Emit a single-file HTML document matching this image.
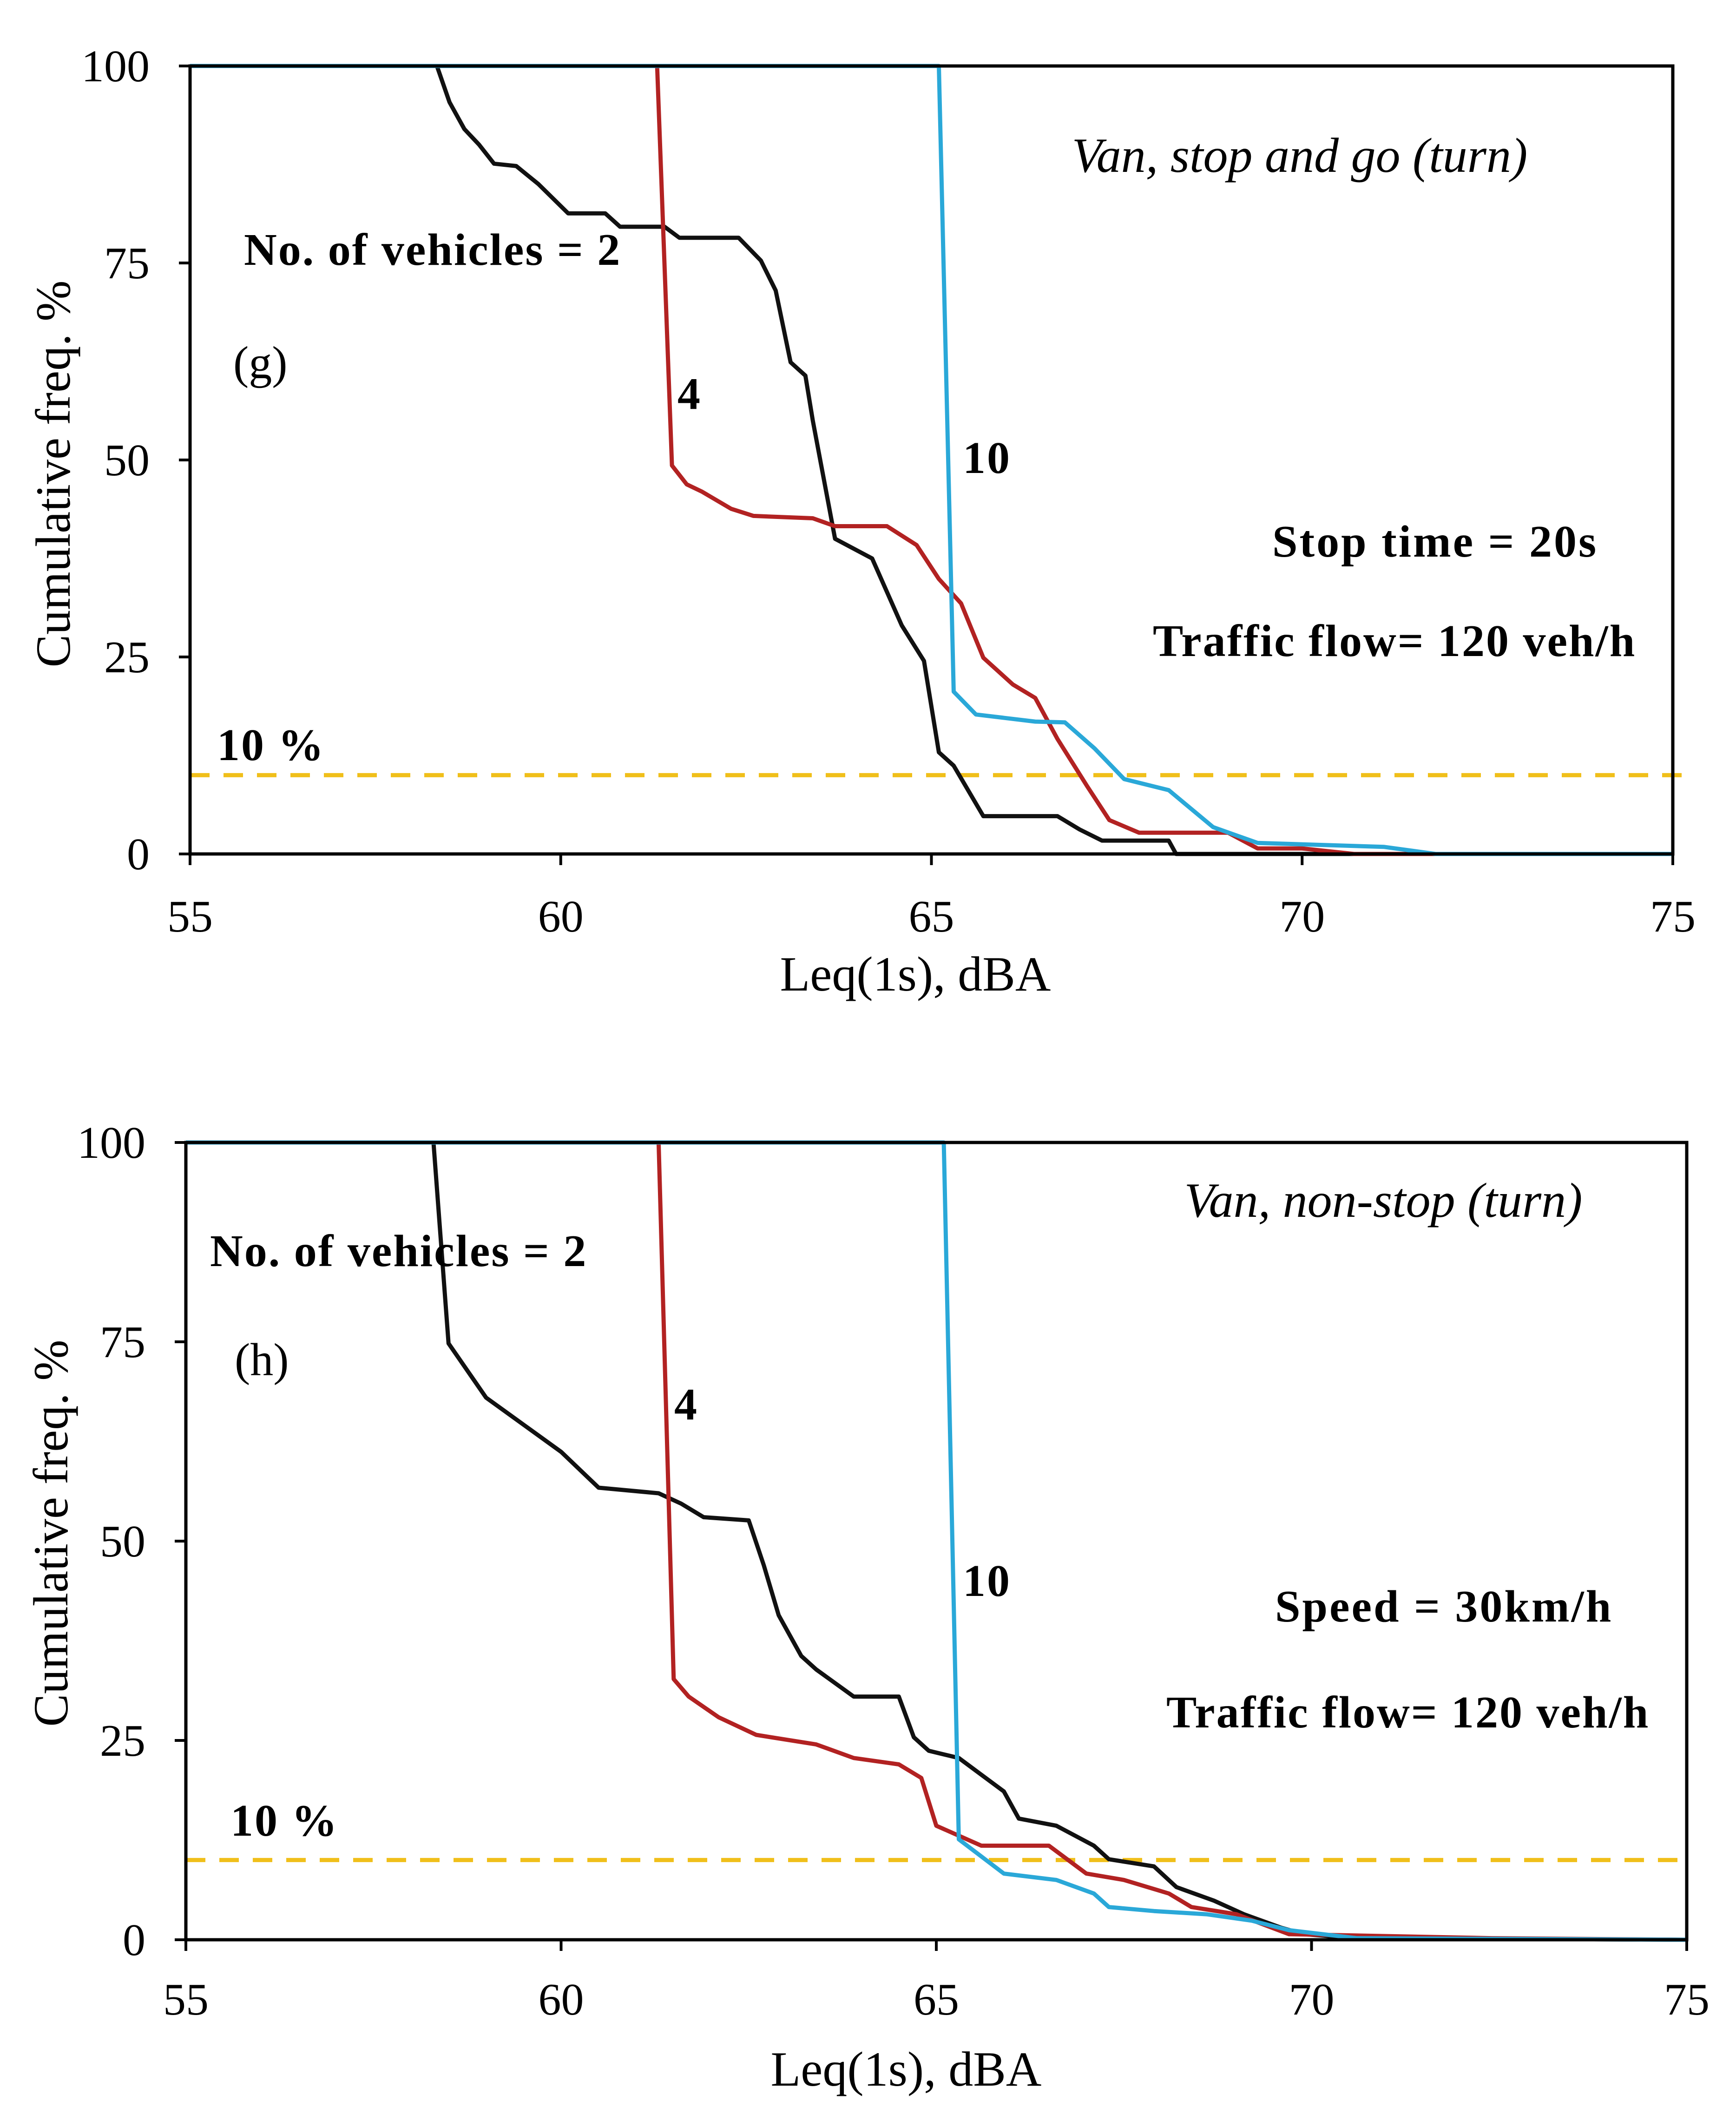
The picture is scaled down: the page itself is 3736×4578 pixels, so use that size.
<!DOCTYPE html>
<html><head><meta charset="utf-8">
<style>
html,body{margin:0;padding:0;background:#fff;}
svg{display:block;}
text{font-family:"Liberation Serif","DejaVu Serif",serif;fill:#000;}
</style></head>
<body>
<svg id="fig" width="3736" height="4578" viewBox="0 0 3736 4578" xmlns="http://www.w3.org/2000/svg">
  <rect x="0" y="0" width="3736" height="4578" fill="#fff"/>
  <g id="chartG"></g>
  <g id="chartH"></g>
</svg>
<script>
// ---- data: panel (g) ----
const xTicks = [55, 60, 65, 70, 75];
const yTicks = [0, 25, 50, 75, 100];
const gBlackX = [55,58.33,58.5,58.7,58.9,59.1,59.4,59.7,60.1,60.6,60.8,61.4,61.6,62.4,62.7,62.9,63.1,63.3,63.4,63.7,64.2,64.6,64.9,65.1,65.3,65.7,66.7,67,67.3,68.2,68.3,75];
const gBlackY = [100,100,95.4,92,90,87.6,87.3,85,81.3,81.3,79.6,79.6,78.2,78.2,75.3,71.5,62.4,60.7,55,40,37.5,29,24.5,12.9,11.2,4.8,4.8,3.1,1.7,1.7,0,0];
const gRedX = [55,61.3,61.5,61.7,61.9,62.3,62.6,63.4,63.7,64.4,64.8,65.1,65.4,65.7,66.1,66.4,66.7,67.1,67.4,67.8,69,69.4,70,70.7,75];
const gRedY = [100,100,49.3,46.9,46,43.8,42.9,42.6,41.6,41.6,39.2,34.9,31.8,24.9,21.5,19.8,14.6,8.6,4.3,2.7,2.7,0.7,0.7,0,0];
const gBlueX = [55,65.1,65.3,65.6,66.4,66.8,67.2,67.6,68.2,68.8,69.4,71.1,71.8,75];
const gBlueY = [100,100,20.6,17.7,16.8,16.7,13.4,9.5,8.1,3.4,1.4,0.9,0,0];
// ---- data: panel (h) ----
const hBlackX = [55,58.3,58.5,59,59.5,60,60.5,61.3,61.6,61.9,62.5,62.7,62.9,63.2,63.4,63.9,64.5,64.7,64.9,65.3,65.9,66.1,66.6,67.1,67.3,67.9,68.2,68.7,69.1,69.6,69.9,70.6,75];
const hBlackY = [100,100,74.8,68,64.6,61.2,56.7,56,54.7,53,52.6,47,40.7,35.6,33.9,30.5,30.5,25.4,23.7,22.8,18.6,15.2,14.3,11.8,10.1,9.2,6.6,4.9,3.2,1.5,0.7,0.2,0];
const hRedX = [55,61.3,61.5,61.7,62.1,62.6,63.4,63.9,64.5,64.8,65,65.6,66.5,67,67.5,68.1,68.4,69,69.7,72.4,75];
const hRedY = [100,100,32.7,30.5,27.9,25.7,24.5,22.8,22,20.3,14.3,11.8,11.8,8.3,7.5,5.8,4.1,3.2,0.7,0.2,0];
const hBlueX = [55,65.1,65.3,65.9,66.6,67.1,67.3,67.9,68.6,69.2,69.7,70.6,75];
const hBlueY = [100,100,12.6,8.3,7.5,5.8,4.1,3.6,3.2,2.4,1.2,0.2,0];
const thresholdPct = [10];

const NS = "http://www.w3.org/2000/svg";
function mk(parent, tag, attrs, txt){
  const e = document.createElementNS(NS, tag);
  for (const k in attrs) e.setAttribute(k, attrs[k]);
  if (txt !== undefined) e.textContent = txt;
  parent.appendChild(e);
  return e;
}

function drawChart(g, cfg){
  const sx = v => cfg.L + (v - 55) / 20 * (cfg.R - cfg.L);
  const sy = v => cfg.B - v / 100 * (cfg.B - cfg.T);
  const series = [
    {x: cfg.black[0], y: cfg.black[1], c: "#111111", n: "series-2-vehicles"},
    {x: cfg.red[0], y: cfg.red[1], c: "#b22222", n: "series-4-vehicles"},
    {x: cfg.blue[0], y: cfg.blue[1], c: "#2aa8d8", n: "series-10-vehicles"}
  ];
  const dl = mk(g, "line", {x1: sx(55), x2: cfg.dashEnd, y1: sy(thresholdPct[0]), y2: sy(thresholdPct[0]), stroke: "#f0bf1a", "stroke-width": 9, "stroke-dasharray": "42 30"});
  
  
  for (const s of series){
    let d = "";
    for (let i = 0; i < s.x.length; i++) d += (i ? "L" : "M") + sx(s.x[i]).toFixed(1) + " " + sy(s.y[i]).toFixed(1);
    const p = mk(g, "path", {d: d, fill: "none", stroke: s.c, "stroke-width": 9, "stroke-linejoin": "round"});
    
    
  }
  const fr = mk(g, "rect", {x: cfg.L, y: cfg.T, width: cfg.R - cfg.L, height: cfg.B - cfg.T, fill: "none", stroke: "#000", "stroke-width": 7});
  
  
  for (const t of yTicks){
    const tl = mk(g, "line", {x1: cfg.L - 24, x2: cfg.L, y1: sy(t), y2: sy(t), stroke: "#000", "stroke-width": 6});
    
    
    const tx = mk(g, "text", {x: cfg.yLabX, y: sy(t) + 33, "text-anchor": "end", "font-size": 98}, String(t));
    
    
  }
  for (const t of xTicks){
    const tl = mk(g, "line", {x1: sx(t), x2: sx(t), y1: cfg.B, y2: cfg.B + 24, stroke: "#000", "stroke-width": 6});
    
    
    const tx = mk(g, "text", {x: sx(t), y: cfg.xLabY, "text-anchor": "middle", "font-size": 98}, String(t));
    
    
  }
  const xt = mk(g, "text", {x: cfg.xTitle[0], y: cfg.xTitle[1], "text-anchor": "middle", "font-size": 106}, "Leq(1s), dBA");
  
  
  const yt = mk(g, "text", {x: 0, y: 0, "text-anchor": "middle", "font-size": 106, transform: "translate(" + cfg.yTitle[0] + "," + cfg.yTitle[1] + ") rotate(-90)"}, "Cumulative freq. %");
  
  
  for (const a of cfg.ann){
    const at = mk(g, "text", {x: a.x, y: a.y, "font-size": a.fs || 90, "font-weight": a.b ? "bold" : "normal", "font-style": a.i ? "italic" : "normal", "text-anchor": a.anchor || "start", "letter-spacing": a.ls || 0}, a.t);
    
    
  }
}

drawChart(document.getElementById("chartG"), {
  L: 409, R: 3600, T: 142, B: 1838, dashEnd: 3620,
  black: [gBlackX, gBlackY], red: [gRedX, gRedY], blue: [gBlueX, gBlueY],
  yLabX: 322, xLabY: 2005, xTitle: [1970, 2132], yTitle: [150, 1020],
  ann: [
    {x: 2797, y: 370, t: "Van, stop and go (turn)", i: true, anchor: "middle", fs: 106, n: "panel-title"},
    {x: 525, y: 570, t: "No. of vehicles = 2", b: true, fs: 98, ls: 3, n: "label-2-vehicles"},
    {x: 502, y: 814, t: "(g)", fs: 100, n: "panel-label"},
    {x: 1458, y: 880, t: "4", b: true, fs: 98, n: "label-4-vehicles"},
    {x: 2072, y: 1018, t: "10", b: true, fs: 98, ls: 3, n: "label-10-vehicles"},
    {x: 2738, y: 1198, t: "Stop time = 20s", b: true, fs: 98, ls: 4, n: "stop-time-note"},
    {x: 2481, y: 1412, t: "Traffic flow= 120 veh/h", b: true, fs: 98, ls: 3, n: "traffic-flow-note"},
    {x: 467, y: 1636, t: "10 %", b: true, fs: 98, ls: 3, n: "threshold-label"}
  ]
});

drawChart(document.getElementById("chartH"), {
  L: 400, R: 3630, T: 2459, B: 4175, dashEnd: 3630,
  black: [hBlackX, hBlackY], red: [hRedX, hRedY], blue: [hBlueX, hBlueY],
  yLabX: 313, xLabY: 4336, xTitle: [1950, 4489], yTitle: [145, 3300],
  ann: [
    {x: 2977, y: 2619, t: "Van, non-stop (turn)", i: true, anchor: "middle", fs: 106, n: "panel-title"},
    {x: 452, y: 2725, t: "No. of vehicles = 2", b: true, fs: 98, ls: 3, n: "label-2-vehicles"},
    {x: 505, y: 2960, t: "(h)", fs: 100, n: "panel-label"},
    {x: 1451, y: 3055, t: "4", b: true, fs: 98, n: "label-4-vehicles"},
    {x: 2072, y: 3435, t: "10", b: true, fs: 98, ls: 3, n: "label-10-vehicles"},
    {x: 2744, y: 3490, t: "Speed = 30km/h", b: true, fs: 98, ls: 4, n: "speed-note"},
    {x: 2510, y: 3718, t: "Traffic flow= 120 veh/h", b: true, fs: 98, ls: 3, n: "traffic-flow-note"},
    {x: 496, y: 3951, t: "10 %", b: true, fs: 98, ls: 3, n: "threshold-label"}
  ]
});
</script>
</body></html>
